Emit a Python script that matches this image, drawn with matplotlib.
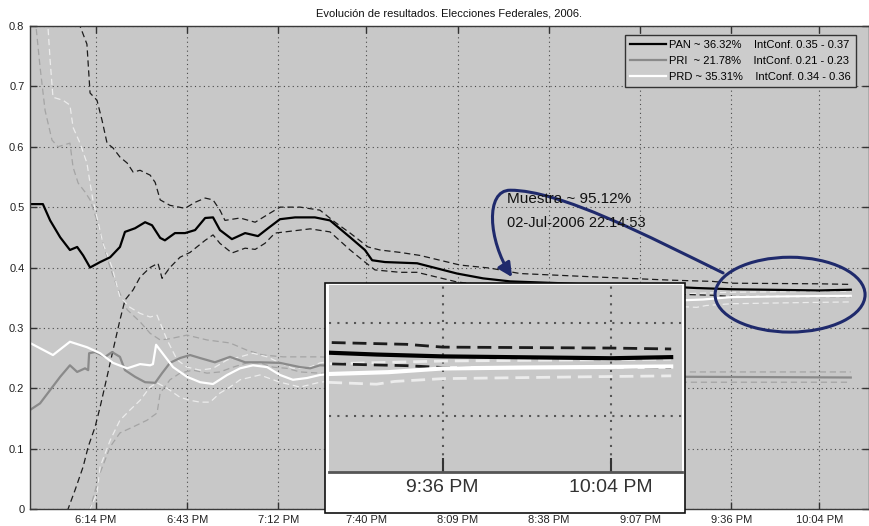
import matplotlib
matplotlib.use('Agg')
import matplotlib.pyplot as plt
from matplotlib.patches import Ellipse, Rectangle, FancyArrowPatch
from matplotlib.path import Path

plt.rcParams['font.family'] = ['Liberation Sans', 'DejaVu Sans']

# time axis is minutes after 18:00
tick_minutes = [14, 43, 72, 100, 129, 158, 187, 216, 244]
tick_labels = ['6:14 PM', '6:43 PM', '7:12 PM', '7:40 PM', '8:09 PM',
               '8:38 PM', '9:07 PM', '9:36 PM', '10:04 PM']
zoom_minutes = [216, 244]
zoom_labels = ['9:36 PM', '10:04 PM']
y_ticks = [0, 0.1, 0.2, 0.3, 0.4, 0.5, 0.6, 0.7, 0.8]

parties = ['PAN', 'PRI', 'PRD']
final_pct = [36.32, 21.78, 35.31]
ci_low = [0.35, 0.21, 0.34]
ci_high = [0.37, 0.23, 0.36]
sample_pct = 95.12
stamp = '02-Jul-2006 22:14:53'

# (minute, share) pairs
pan_mid = [(-7, .505), (-2.9, .505), (-0.6, .478), (2.6, .45), (5.7, .429), (8.0, .434),
           (9.9, .42), (12.1, .40), (15.3, .409), (18.5, .417), (21.6, .434), (23.2, .459),
           (26.4, .465), (29.6, .475), (31.8, .47), (34.4, .449), (35.9, .445), (39.1, .457),
           (42.3, .457), (45.5, .462), (48.7, .482), (51.2, .483), (53.4, .462), (57.2, .447),
           (61.4, .457), (65.5, .452), (68.7, .465), (72.5, .48), (77.3, .483), (83.6, .483),
           (88.4, .478), (94.8, .45), (99.5, .429), (101.8, .412), (105.9, .409), (116.1, .407),
           (128.8, .39), (137.1, .382), (145.7, .377), (161.6, .374), (180.6, .369), (197, .368),
           (205, .366), (216, .364), (230, .363), (244, .362), (254, .3632)]
pan_hi = [(8.0, .84), (8.9, .80), (11.1, .77), (12.1, .689), (14.3, .677), (15.9, .644),
          (17.5, .606), (19.4, .598), (21.6, .583), (23.9, .573), (25.8, .558), (28.0, .561),
          (31.2, .553), (32.8, .541), (34.4, .512), (37.5, .503), (42.3, .498), (45.5, .508),
          (48.7, .515), (51.2, .512), (53.4, .495), (55.0, .478), (59.8, .482), (64.6, .475),
          (69.3, .49), (72.5, .50), (78.9, .50), (85.2, .495), (90.0, .475), (94.8, .457),
          (100.5, .434), (104.3, .429), (110.7, .425), (117.0, .42), (123.4, .412), (129.8, .404),
          (139.3, .399), (148.8, .39), (174.3, .384), (197, .379), (210, .377), (216, .374),
          (244, .373), (254, .372)]
pan_lo = [(4.5, -.02), (5.1, 0.0), (7.3, .031), (9.9, .07), (11.5, .103), (13.7, .136),
          (15.3, .169), (17.5, .219), (19.4, .263), (21.6, .313), (23.2, .346), (25.8, .363),
          (28.0, .384), (31.2, .40), (33.7, .407), (35.0, .382), (37.5, .40), (40.7, .417),
          (43.9, .425), (48.7, .445), (51.2, .454), (53.4, .44), (57.2, .424), (61.4, .432),
          (64.6, .43), (67.7, .44), (70.9, .457), (75.7, .46), (82.1, .464), (88.4, .459),
          (94.8, .429), (99.5, .409), (102.7, .396), (110.7, .392), (116.1, .392), (128.8, .376),
          (142.5, .368), (174.3, .36), (197, .356), (210, .354), (216, .352), (254, .352)]

pri_mid = [(-7, .164), (-3.8, .175), (-0.6, .197), (2.6, .219), (5.7, .238), (8.0, .227),
           (10.5, .233), (11.5, .230), (11.8, .258), (13.7, .26), (16.9, .252), (19.1, .26),
           (21.6, .252), (23.2, .23), (26.4, .219), (29.6, .21), (32.8, .209), (35.0, .225),
           (37.5, .242), (40.7, .25), (43.9, .255), (47.1, .25), (51.8, .243), (56.6, .252),
           (61.4, .243), (66.1, .243), (72.5, .242), (78.9, .235), (82.1, .233), (85.2, .238),
           (95, .236), (120, .23), (160, .222), (202, .219), (254, .2178)]
pri_hi = [(-5.8, .86), (-5.1, .80), (-3.8, .732), (-2.2, .66), (0.0, .611), (1.9, .60),
          (5.7, .606), (6.7, .566), (8.3, .54), (10.5, .525), (12.1, .512), (14.3, .478),
          (16.2, .44), (18.5, .40), (20.7, .368), (23.9, .33), (28.0, .31), (31.2, .291),
          (34.4, .28), (37.5, .282), (42.9, .288), (49.3, .28), (56.6, .275), (62.0, .263),
          (67.1, .255), (73.5, .252), (85.2, .252), (95, .25), (120, .24), (160, .232),
          (202, .227), (254, .227)]
pri_lo = [(11.5, -.02), (12.1, 0.0), (15.3, .06), (18.5, .103), (21.6, .126), (25.8, .136),
          (30.2, .147), (33.4, .159), (34.4, .192), (37.5, .214), (40.7, .225), (44.8, .23),
          (49.3, .225), (53.4, .227), (57.6, .235), (62.0, .242), (66.1, .242), (70.3, .235),
          (74.7, .233), (78.9, .227), (85.2, .225), (95, .223), (120, .218), (160, .212),
          (202, .21), (254, .21)]

prd_mid = [(-7, .275), (0.3, .255), (5.7, .277), (11.1, .268), (15.3, .258), (19.4, .242),
           (23.9, .233), (28.0, .24), (31.2, .238), (32.1, .24), (33.1, .272), (34.4, .263),
           (38.5, .235), (42.9, .219), (47.1, .21), (51.2, .207), (55.7, .222), (59.8, .233),
           (63.9, .238), (68.4, .235), (72.5, .222), (76.6, .214), (81.1, .217), (85.2, .222),
           (95, .228), (120, .27), (160, .32), (197, .345), (207, .347), (216, .351),
           (230, .352), (254, .3531)]
prd_hi = [(-2.0, .86), (-1.3, .80), (-0.6, .743), (0.3, .682), (3.5, .677), (5.7, .669),
          (6.7, .632), (8.9, .606), (11.1, .573), (12.1, .54), (13.0, .512), (14.3, .483),
          (16.2, .44), (19.1, .40), (21.6, .351), (24.8, .334), (28.0, .324), (31.2, .318),
          (33.4, .321), (36.6, .28), (39.8, .247), (42.9, .235), (47.1, .23), (51.2, .233),
          (55.7, .247), (59.8, .252), (63.9, .258), (68.4, .252), (72.5, .242), (76.6, .233),
          (81.1, .233), (85.2, .242), (95, .25), (120, .29), (160, .335), (197, .356),
          (216, .359), (254, .361)]
prd_lo = [(11.8, -.02), (12.1, 0.0), (14.3, .026), (15.3, .07), (18.5, .114), (21.6, .147),
          (24.8, .164), (28.0, .18), (31.2, .202), (33.4, .209), (36.6, .2), (40.7, .185),
          (43.9, .18), (47.1, .177), (50.3, .177), (53.4, .192), (56.6, .202), (59.8, .214),
          (66.1, .222), (72.5, .21), (78.9, .202), (85.2, .21), (95, .215), (120, .25),
          (160, .31), (197, .336), (205, .334), (208, .337), (216, .34), (240, .342), (254, .343)]

BG = '#c8c8c8'
NAVY = '#1f2a6c'

ci_lines = [(pri_hi, '#a4a4a4'), (pri_lo, '#a4a4a4'),
            (prd_hi, '#ececec'), (prd_lo, '#ececec'),
            (pan_hi, '#1c1c1c'), (pan_lo, '#1c1c1c')]
# drawing order: PRI, PRD, PAN on top
mid_lines = {'PRI': (pri_mid, '#8a8a8a'), 'PRD': (prd_mid, '#ffffff'),
             'PAN': (pan_mid, '#000000')}


def draw_lines(ax, lw_mid, lw_ci, dash):
    for pts, c in ci_lines:
        t, v = zip(*pts)
        ax.plot(t, v, color=c, lw=lw_ci, ls=(0, dash))
    handles = {}
    for name, (pts, c) in mid_lines.items():
        t, v = zip(*pts)
        handles[name], = ax.plot(t, v, color=c, lw=lw_mid, solid_joinstyle='round')
    return [handles[p] for p in parties]


fig = plt.figure(figsize=(8.69, 5.26), dpi=100)
ax = fig.add_axes([30 / 869, 17 / 526, 839 / 869, 483 / 526])
ax.set_facecolor(BG)
handles = draw_lines(ax, 1.6, 0.9, (5, 3))

ax.set_xlim(-7, 259.8)
ax.set_ylim(0, 0.8)
ax.set_xticks(tick_minutes, tick_labels)
ax.set_yticks(y_ticks, [f'{v:g}' for v in y_ticks])
ax.tick_params(direction='in', length=5, width=1, color='#333333',
               labelsize=8, labelcolor='#222222', top=True, right=True, pad=4)
ax.grid(True, color='#4a4a4a', lw=0.8, ls=(0, (1, 3)))
for s in ax.spines.values():
    s.set_color('#3a3a3a')
    s.set_linewidth(1)
ax.set_title('Evolución de resultados. Elecciones Federales, 2006.',
             fontsize=8, color='#111111', pad=7)

labels = [f'{p}{"  " if p == "PRI" else " "}~ {pct:.2f}%    IntConf. {lo:.2f} - {hi:.2f}'
          for p, pct, lo, hi in zip(parties, final_pct, ci_low, ci_high)]
leg = ax.legend(handles, labels, loc='upper right', fontsize=8,
                bbox_to_anchor=(856 / 869, 1 - 35 / 526), bbox_transform=fig.transFigure,
                borderaxespad=0, fancybox=False, framealpha=1, facecolor='#cccccc',
                edgecolor='#333333', handlelength=3.2, handletextpad=0.3,
                labelspacing=0.55, borderpad=0.45)
leg.get_frame().set_linewidth(1)

# highlighted end of the count and the note pointing to the zoomed panel
ax.add_patch(Ellipse((234.7, 0.355), 47.7, 0.124, fill=False, ec=NAVY, lw=2.2, zorder=5))
verts = [(213.4, 0.391), (190.2, 0.450), (161.6, 0.528), (145.7, 0.528),
         (137.7, 0.528), (138.7, 0.445), (146.3, 0.384)]
codes = [Path.MOVETO] + [Path.CURVE4] * 6
ax.add_patch(FancyArrowPatch(path=Path(verts, codes), arrowstyle='-|>,head_length=0.6,head_width=0.3',
                             mutation_scale=14, color=NAVY, lw=2.2, zorder=5))
ax.text(144.7, 0.513, f'Muestra ~ {sample_pct:.2f}%', fontsize=11, color='#111111',
        va='center', zorder=6)
ax.text(144.7, 0.473, stamp, fontsize=10.5, color='#111111', va='center', zorder=6)

# zoomed panel on the last hour
fig.patches.append(Rectangle((325 / 869, 13 / 526), 360 / 869, 230 / 526,
                             transform=fig.transFigure, fc='white', ec='#111111',
                             lw=1.2, zorder=1))
ins = fig.add_axes([329 / 869, 54 / 526, 353 / 869, 187 / 526], zorder=2)
ins.set_facecolor(BG)
draw_lines(ins, 3.0, 2.0, (5, 2.5))
ins.set_xlim(197.1, 255.8)
ins.set_ylim(0.2393, 0.441)
ins.set_xticks(zoom_minutes, zoom_labels)
ins.set_yticks([0.3, 0.4], [])
ins.tick_params(axis='x', direction='in', length=10, width=1.5, color='#333333',
                labelsize=14, labelcolor='#333333', pad=5)
ins.tick_params(axis='y', length=0)
ins.grid(True, color='#555555', lw=1.5, ls=(0, (1, 3)))
for k in ('top', 'left', 'right'):
    ins.spines[k].set_visible(False)
ins.spines['bottom'].set_color('#555555')
ins.spines['bottom'].set_linewidth(2)

fig.savefig('out.png', dpi=100)
